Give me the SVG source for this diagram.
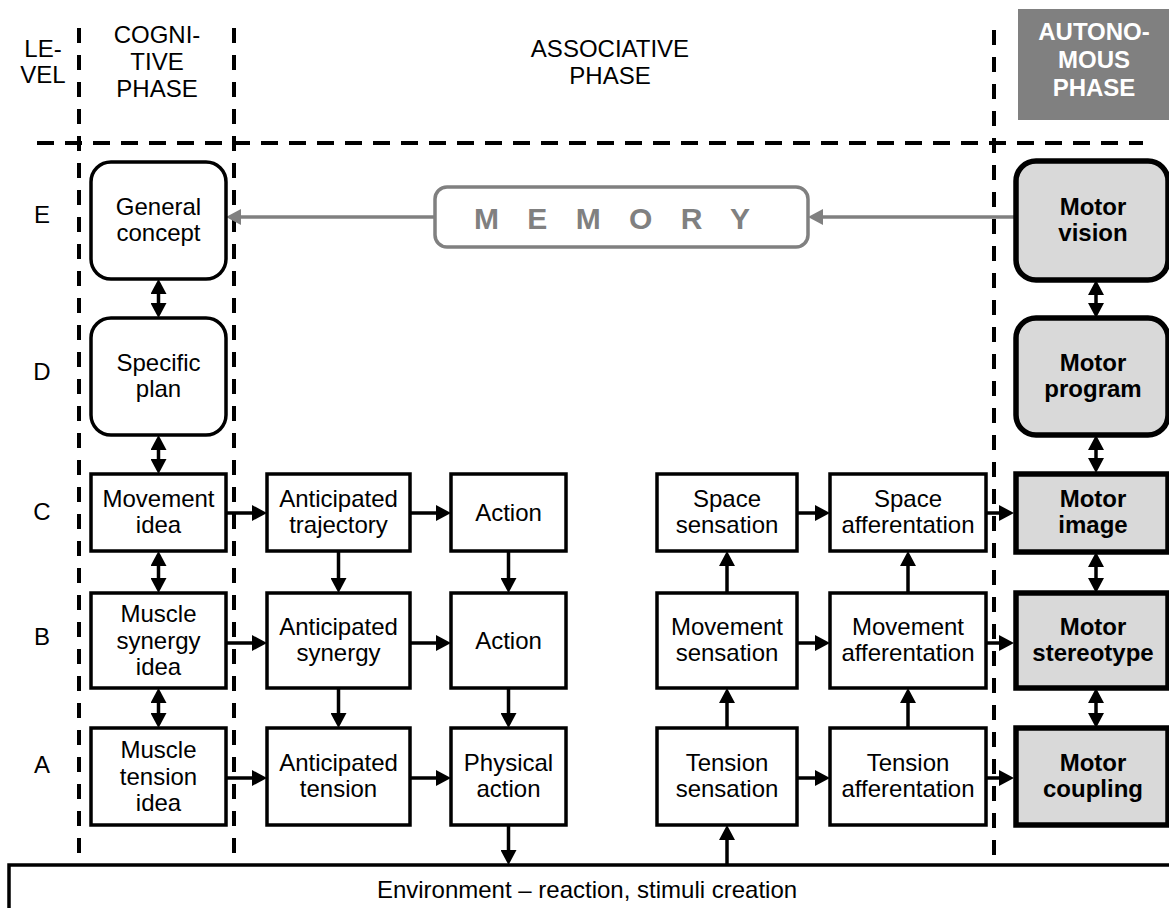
<svg xmlns="http://www.w3.org/2000/svg" width="1169" height="908" viewBox="0 0 1169 908">
<style>
.t{font-family:"Liberation Sans",Arial,sans-serif;font-size:24px;text-anchor:middle;fill:#000}
.b{font-weight:bold}
.w{fill:#fff}
.box{fill:#fff;stroke:#000;stroke-width:3.5}
.mbox{fill:#d9d9d9;stroke:#000;stroke-width:5.5}
.dash{stroke:#000;stroke-width:4;fill:none}
.ar{stroke:#000;stroke-width:3.5;fill:none;marker-end:url(#ah)}
.dar{stroke:#000;stroke-width:3.5;fill:none;marker-start:url(#ah);marker-end:url(#ah)}
.gar{stroke:#808080;stroke-width:3.5;fill:none;marker-end:url(#gh)}
</style>
<defs>
<marker id="ah" viewBox="0 0 15 16" refX="11" refY="8" markerWidth="15" markerHeight="16" markerUnits="userSpaceOnUse" orient="auto-start-reverse"><path d="M0,0 L15,8 L0,16 z" fill="#000"/></marker>
<marker id="gh" viewBox="0 0 15 16" refX="11" refY="8" markerWidth="15" markerHeight="16" markerUnits="userSpaceOnUse" orient="auto-start-reverse"><path d="M0,0 L15,8 L0,16 z" fill="#808080"/></marker>
</defs>
<rect width="1169" height="908" fill="#fff"/>

<g id="grid">
<line class="dash" x1="79" y1="28" x2="79" y2="862" stroke-dasharray="15 12"/>
<line class="dash" x1="234" y1="28" x2="234" y2="862" stroke-dasharray="15 12"/>
<line class="dash" x1="994" y1="30" x2="994" y2="862" stroke-dasharray="15 12"/>
<line class="dash" x1="37" y1="143" x2="1143" y2="143" stroke-dasharray="17 11"/>
</g>

<g id="headers">
<text class="t" x="43" y="57">LE-</text>
<text class="t" x="43" y="83">VEL</text>
<text class="t" x="157" y="43">COGNI-</text>
<text class="t" x="157" y="70">TIVE</text>
<text class="t" x="157" y="97">PHASE</text>
<text class="t" x="610" y="57">ASSOCIATIVE</text>
<text class="t" x="610" y="84">PHASE</text>
<rect x="1018" y="9" width="151" height="111" fill="#808080"/>
<text class="t b w" x="1094" y="40">AUTONO-</text>
<text class="t b w" x="1094" y="68">MOUS</text>
<text class="t b w" x="1094" y="96">PHASE</text>
</g>

<g id="levels">
<text class="t" x="42" y="223">E</text>
<text class="t" x="42" y="380">D</text>
<text class="t" x="42" y="520">C</text>
<text class="t" x="42" y="645">B</text>
<text class="t" x="42" y="773">A</text>
</g>

<g id="connectors">
<line class="gar" x1="435" y1="217" x2="230" y2="217"/>
<line class="gar" x1="1016" y1="217" x2="812" y2="217"/>
<line class="dar" x1="158.5" y1="283" x2="158.5" y2="314"/>
<line class="dar" x1="158.5" y1="439" x2="158.5" y2="470"/>
<line class="dar" x1="158.5" y1="555" x2="158.5" y2="589"/>
<line class="dar" x1="158.5" y1="692" x2="158.5" y2="724"/>
<line class="dar" x1="1096" y1="284" x2="1096" y2="314"/>
<line class="dar" x1="1096" y1="439" x2="1096" y2="469"/>
<line class="dar" x1="1096" y1="556" x2="1096" y2="589"/>
<line class="dar" x1="1096" y1="692" x2="1096" y2="724"/>
<line class="ar" x1="226" y1="513" x2="263" y2="513"/>
<line class="ar" x1="410" y1="513" x2="447" y2="513"/>
<line class="ar" x1="797" y1="513" x2="826" y2="513"/>
<line class="ar" x1="986" y1="513" x2="1010" y2="513"/>
<line class="ar" x1="226" y1="643" x2="263" y2="643"/>
<line class="ar" x1="410" y1="643" x2="447" y2="643"/>
<line class="ar" x1="797" y1="643" x2="826" y2="643"/>
<line class="ar" x1="986" y1="643" x2="1010" y2="643"/>
<line class="ar" x1="226" y1="778" x2="263" y2="778"/>
<line class="ar" x1="410" y1="778" x2="447" y2="778"/>
<line class="ar" x1="797" y1="778" x2="826" y2="778"/>
<line class="ar" x1="986" y1="778" x2="1010" y2="778"/>
<line class="ar" x1="338.5" y1="551" x2="338.5" y2="589"/>
<line class="ar" x1="338.5" y1="688" x2="338.5" y2="724"/>
<line class="ar" x1="508.5" y1="551" x2="508.5" y2="589"/>
<line class="ar" x1="508.5" y1="688" x2="508.5" y2="724"/>
<line class="ar" x1="508.5" y1="825" x2="508.5" y2="861"/>
<line class="ar" x1="727" y1="865" x2="727" y2="829"/>
<line class="ar" x1="727" y1="728" x2="727" y2="692"/>
<line class="ar" x1="727" y1="593" x2="727" y2="555"/>
<line class="ar" x1="908" y1="728" x2="908" y2="692"/>
<line class="ar" x1="908" y1="593" x2="908" y2="555"/>
</g>

<g id="memory">
<rect x="435" y="187" width="373" height="60" rx="12" fill="#fff" stroke="#808080" stroke-width="3.5"/>
<text x="474" y="229" style="font-family:'Liberation Sans',Arial,sans-serif;font-size:30px;font-weight:bold;fill:#808080;letter-spacing:10px">M E M O R Y</text>
</g>

<g id="general-concept">
<rect class="box" x="91" y="162" width="135" height="117" rx="20"/>
<text class="t" x="158.5" y="215">General</text>
<text class="t" x="158.5" y="241">concept</text>
</g>
<g id="specific-plan">
<rect class="box" x="91" y="318" width="135" height="117" rx="20"/>
<text class="t" x="158.5" y="371">Specific</text>
<text class="t" x="158.5" y="397">plan</text>
</g>
<g id="movement-idea">
<rect class="box" x="91" y="474" width="135" height="77"/>
<text class="t" x="158.5" y="507">Movement</text>
<text class="t" x="158.5" y="533">idea</text>
</g>
<g id="muscle-synergy-idea">
<rect class="box" x="91" y="593" width="135" height="95"/>
<text class="t" x="158.5" y="622">Muscle</text>
<text class="t" x="158.5" y="648.5">synergy</text>
<text class="t" x="158.5" y="675">idea</text>
</g>
<g id="muscle-tension-idea">
<rect class="box" x="91" y="728" width="135" height="97"/>
<text class="t" x="158.5" y="758">Muscle</text>
<text class="t" x="158.5" y="784.5">tension</text>
<text class="t" x="158.5" y="811">idea</text>
</g>

<g id="anticipated-trajectory">
<rect class="box" x="267" y="474" width="143" height="77"/>
<text class="t" x="338.5" y="507">Anticipated</text>
<text class="t" x="338.5" y="533">trajectory</text>
</g>
<g id="anticipated-synergy">
<rect class="box" x="267" y="593" width="143" height="95"/>
<text class="t" x="338.5" y="635">Anticipated</text>
<text class="t" x="338.5" y="661">synergy</text>
</g>
<g id="anticipated-tension">
<rect class="box" x="267" y="728" width="143" height="97"/>
<text class="t" x="338.5" y="771">Anticipated</text>
<text class="t" x="338.5" y="797">tension</text>
</g>

<g id="action-c">
<rect class="box" x="451" y="474" width="115" height="77"/>
<text class="t" x="508.5" y="521">Action</text>
</g>
<g id="action-b">
<rect class="box" x="451" y="593" width="115" height="95"/>
<text class="t" x="508.5" y="649">Action</text>
</g>
<g id="physical-action">
<rect class="box" x="451" y="728" width="115" height="97"/>
<text class="t" x="508.5" y="771">Physical</text>
<text class="t" x="508.5" y="797">action</text>
</g>

<g id="space-sensation">
<rect class="box" x="657" y="474" width="140" height="77"/>
<text class="t" x="727" y="507">Space</text>
<text class="t" x="727" y="533">sensation</text>
</g>
<g id="movement-sensation">
<rect class="box" x="657" y="593" width="140" height="95"/>
<text class="t" x="727" y="635">Movement</text>
<text class="t" x="727" y="661">sensation</text>
</g>
<g id="tension-sensation">
<rect class="box" x="657" y="728" width="140" height="97"/>
<text class="t" x="727" y="771">Tension</text>
<text class="t" x="727" y="797">sensation</text>
</g>

<g id="space-afferentation">
<rect class="box" x="830" y="474" width="156" height="77"/>
<text class="t" x="908" y="507">Space</text>
<text class="t" x="908" y="533">afferentation</text>
</g>
<g id="movement-afferentation">
<rect class="box" x="830" y="593" width="156" height="95"/>
<text class="t" x="908" y="635">Movement</text>
<text class="t" x="908" y="661">afferentation</text>
</g>
<g id="tension-afferentation">
<rect class="box" x="830" y="728" width="156" height="97"/>
<text class="t" x="908" y="771">Tension</text>
<text class="t" x="908" y="797">afferentation</text>
</g>

<g id="motor-vision">
<rect class="mbox" x="1016" y="161" width="152" height="119" rx="20"/>
<text class="t b" x="1093" y="215">Motor</text>
<text class="t b" x="1093" y="241">vision</text>
</g>
<g id="motor-program">
<rect class="mbox" x="1016" y="318" width="152" height="117" rx="20"/>
<text class="t b" x="1093" y="371">Motor</text>
<text class="t b" x="1093" y="397">program</text>
</g>
<g id="motor-image">
<rect class="mbox" x="1016" y="474" width="152" height="78"/>
<text class="t b" x="1093" y="507">Motor</text>
<text class="t b" x="1093" y="533">image</text>
</g>
<g id="motor-stereotype">
<rect class="mbox" x="1016" y="593" width="152" height="95"/>
<text class="t b" x="1093" y="635">Motor</text>
<text class="t b" x="1093" y="661">stereotype</text>
</g>
<g id="motor-coupling">
<rect class="mbox" x="1016" y="728" width="152" height="97"/>
<text class="t b" x="1093" y="771">Motor</text>
<text class="t b" x="1093" y="797">coupling</text>
</g>

<g id="environment">
<rect class="box" x="9" y="865" width="1200" height="100"/>
<text class="t" x="587" y="898">Environment – reaction, stimuli creation</text>
</g>
</svg>
